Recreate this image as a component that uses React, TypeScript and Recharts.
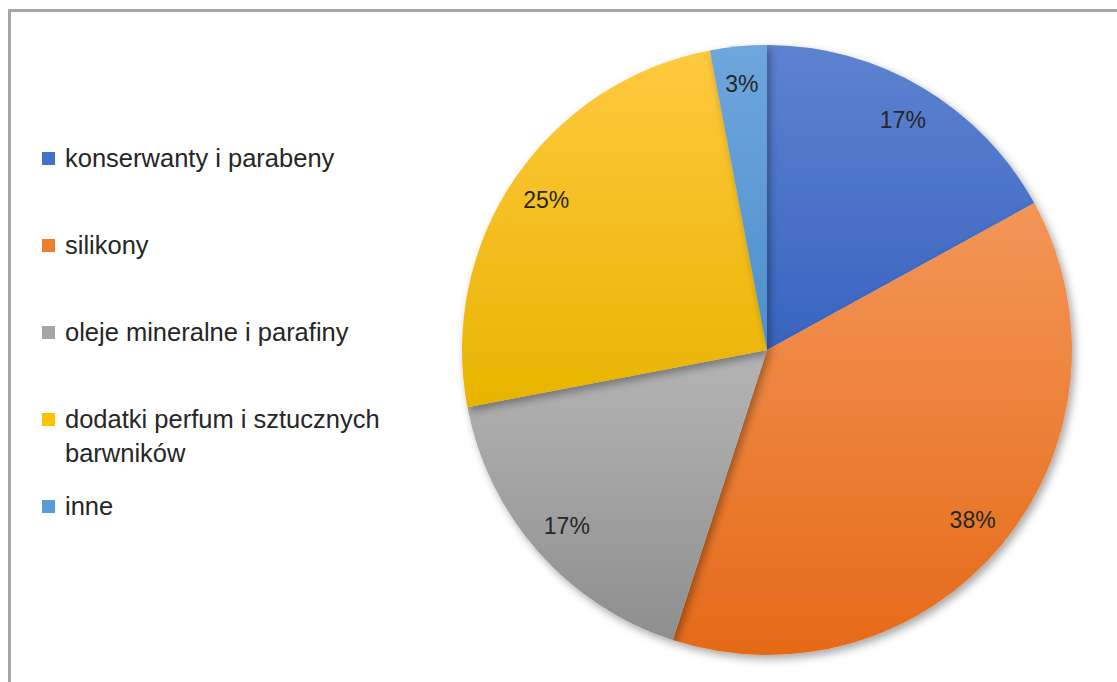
import { Cell, Legend, Pie, PieChart } from "recharts";

const categories = [
  "konserwanty i parabeny",
  "silikony",
  "oleje mineralne i parafiny",
  "dodatki perfum i sztucznych barwników",
  "inne",
];
const shares = [17, 38, 17, 25, 3];

// top / bottom colours of each slice gradient
const topColors = ["#5d82d0", "#f39658", "#b5b5b5", "#ffc93e", "#6ea6dd"];
const bottomColors = ["#3964c0", "#e56a18", "#8e8e8e", "#e8b400", "#4f8fcc"];
const swatches = ["#4472c4", "#ed7d31", "#a5a5a5", "#ffc000", "#5b9bd5"];

const data = categories.map((name, i) => ({ name, value: shares[i] }));

const FONT = "'Liberation Sans', Arial, sans-serif";

function renderLabel(props: any) {
  const { cx, cy, midAngle, outerRadius, value } = props;
  const rad = Math.PI / 180;
  const r = outerRadius * 0.875;
  const x = cx + r * Math.cos(-midAngle * rad);
  const y = cy + r * Math.sin(-midAngle * rad);
  return (
    <text
      x={x}
      y={y}
      textAnchor="middle"
      dominantBaseline="central"
      fill="#262626"
      fontSize={23}
      fontFamily={FONT}
    >
      {value}%
    </text>
  );
}

function renderLegend() {
  return (
    <div style={{ position: "relative", width: 380, height: 600 }}>
      {categories.map((name, i) => (
        <div
          key={name}
          style={{
            position: "absolute",
            left: 0,
            top: i * 87,
            display: "flex",
            alignItems: "flex-start",
            fontFamily: FONT,
            fontSize: 25.5,
            lineHeight: "34px",
            color: "#262626",
          }}
        >
          <span
            style={{
              display: "inline-block",
              width: 13,
              height: 13,
              marginTop: 11,
              marginRight: 10,
              background: swatches[i],
              flex: "none",
            }}
          />
          <span style={{ width: 345 }}>{name}</span>
        </div>
      ))}
    </div>
  );
}

export default function App() {
  return (
    <div
      style={{
        position: "absolute",
        left: 0,
        top: 0,
        width: 1117,
        height: 682,
        overflow: "hidden",
        background: "#fff",
      }}
    >
      <div
        style={{
          position: "absolute",
          left: 8,
          top: 9,
          width: 1200,
          height: 800,
          border: "3px solid #a6a6a6",
          boxSizing: "border-box",
        }}
      />
      <style>{`.recharts-pie-sector { filter: url(#pieShadow); }`}</style>
      <div style={{ position: "absolute", left: 0, top: 0 }}>
        <PieChart width={1117} height={682} margin={{ top: 0, right: 0, bottom: 0, left: 0 }}>
          <defs>
            {topColors.map((c, i) => (
              <linearGradient key={i} id={`grad${i}`} x1="0" y1="0" x2="0" y2="1">
                <stop offset="0%" stopColor={c} />
                <stop offset="100%" stopColor={bottomColors[i]} />
              </linearGradient>
            ))}
            <filter id="pieShadow" x="-20%" y="-20%" width="140%" height="140%">
              <feDropShadow dx="3" dy="4" stdDeviation="4" floodColor="#000" floodOpacity="0.35" />
            </filter>
          </defs>
          <Pie
            data={data}
            dataKey="value"
            nameKey="name"
            cx={767}
            cy={350}
            outerRadius={305}
            startAngle={90}
            endAngle={-270}
            stroke="none"
            label={renderLabel}
            labelLine={false}
            isAnimationActive={false}
          >
            {data.map((d, i) => (
              <Cell key={d.name} fill={`url(#grad${i})`} />
            ))}
          </Pie>
          <Legend
            content={renderLegend}
            layout="vertical"
            wrapperStyle={{ position: "absolute", left: 42, top: 141, width: 380 }}
          />
        </PieChart>
      </div>
    </div>
  );
}
